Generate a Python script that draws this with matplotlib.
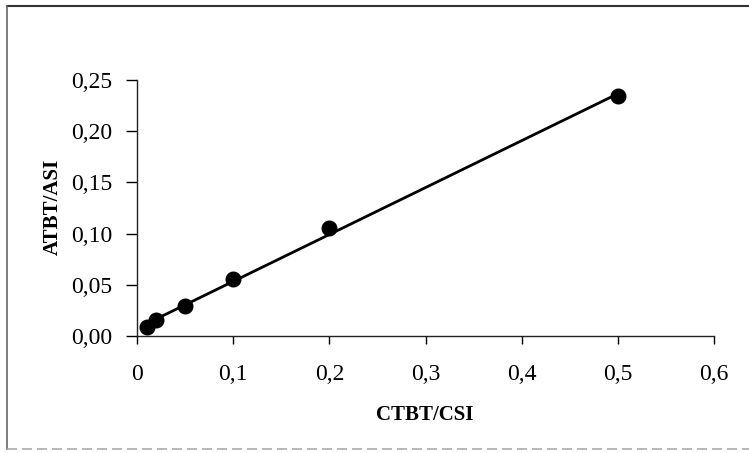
import numpy as np
import matplotlib
matplotlib.use("Agg")
import matplotlib.pyplot as plt
from matplotlib.lines import Line2D

# Data
x_vals = [0.01, 0.02, 0.05, 0.1, 0.2, 0.5]
y_vals = [0.0087, 0.0154, 0.0295, 0.0555, 0.105, 0.234]
x_ticks = [0, 0.1, 0.2, 0.3, 0.4, 0.5, 0.6]
x_tick_labels = ["0", "0,1", "0,2", "0,3", "0,4", "0,5", "0,6"]
y_ticks = [0.00, 0.05, 0.10, 0.15, 0.20, 0.25]
y_tick_labels = ["0,00", "0,05", "0,10", "0,15", "0,20", "0,25"]
x_label = "CTBT/CSI"
y_label = "ATBT/ASI"

plt.rcParams['font.family'] = ['Liberation Serif', 'DejaVu Serif']

W, H = 749, 453
fig = plt.figure(figsize=(W / 100, H / 100), dpi=100)
ax = fig.add_axes([137 / W, 1 - 336 / H, (714 - 137) / W, (336 - 80) / H])

# linear trend line through the data
coef = np.polyfit(x_vals, y_vals, 1)
xl = np.array([min(x_vals), max(x_vals)])
ax.plot(xl, np.polyval(coef, xl), color="black", lw=2.0, zorder=2)
ax.plot(x_vals, y_vals, "o", color="black", ms=10.5, zorder=3)

ax.set_xlim(0, 0.6)
ax.set_ylim(0, 0.25)
ax.set_xticks(x_ticks)
ax.set_xticklabels(x_tick_labels, fontsize=17)
ax.set_yticks(y_ticks)
ax.set_yticklabels(y_tick_labels, fontsize=17)
ax.tick_params(axis="y", direction="out", length=8, width=1, pad=10)
ax.tick_params(axis="x", direction="out", length=6, width=1, pad=14)
for s in ["top", "right"]:
    ax.spines[s].set_visible(False)
for s in ["left", "bottom"]:
    ax.spines[s].set_linewidth(1.0)
    ax.spines[s].set_color("#222222")

fig.text(425 / W, 1 - 415 / H, x_label, ha="center", va="center",
         fontsize=15, fontweight="bold")
fig.text(53 / W, 1 - 207 / H, y_label, ha="center", va="center",
         fontsize=15, fontweight="bold", rotation=90)

# outer frame of the scanned figure
fig.add_artist(Line2D([7 / W, 1.0], [1 - 6 / H, 1 - 6 / H], color="#333333", lw=1.5))
fig.add_artist(Line2D([7 / W, 7 / W], [1 - 6 / H, 1 - 449 / H], color="#666666", lw=1.2))
fig.add_artist(Line2D([7 / W, 1.0], [1 - 449 / H, 1 - 449 / H], color="#aaaaaa", lw=1.2,
                      linestyle=(0, (6, 3))))

fig.savefig("out.png", dpi=100)
